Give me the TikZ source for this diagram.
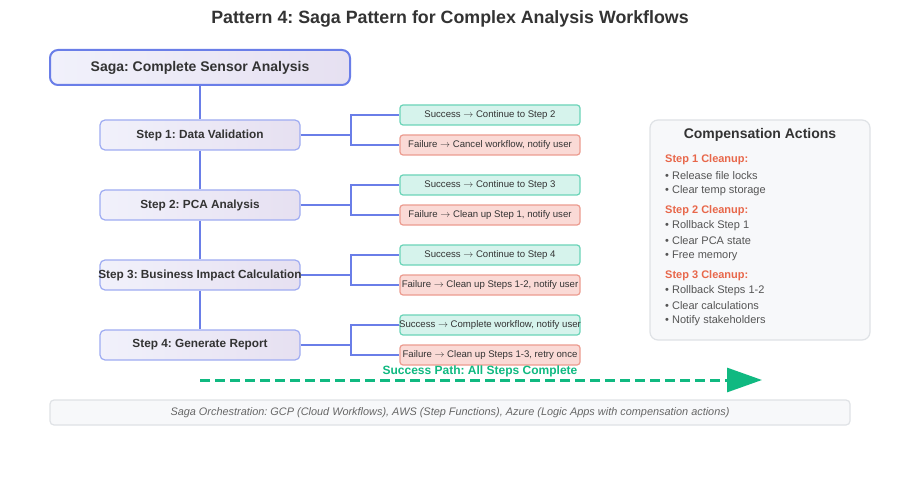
\documentclass[tikz,border=0pt]{standalone}
\usepackage{fontspec}
\setmainfont{Liberation Sans}
\newcommand\rarr{\ensuremath{\rightarrow}}
\frenchspacing
\usetikzlibrary{arrows.meta,calc}
\definecolor{txt}{HTML}{333333}
\definecolor{lineblue}{HTML}{6A7EE8}
\definecolor{stepborder}{HTML}{9FACF2}
\definecolor{lavL}{HTML}{F1F1FB}
\definecolor{lavR}{HTML}{E6E0F1}
\definecolor{okf}{HTML}{D6F3EC}
\definecolor{okb}{HTML}{6BD4B8}
\definecolor{failf}{HTML}{FADAD6}
\definecolor{failb}{HTML}{EC9C90}
\definecolor{hdr}{HTML}{E8674A}
\definecolor{bul}{HTML}{555555}
\definecolor{teal}{HTML}{10B981}
\definecolor{panel}{HTML}{F7F8FA}
\definecolor{panelb}{HTML}{DFE2E6}
\definecolor{foot}{HTML}{666666}
\begin{document}
\begin{tikzpicture}[x=1pt,y=-1pt,
  saga/.style={draw=lineblue,line width=2pt,rounded corners=8pt,left color=lavL,right color=lavR,
    minimum width=300pt,minimum height=35pt,inner sep=0pt,font=\fontsize{14}{16}\selectfont\bfseries,text=txt},
  stepbox/.style={draw=stepborder,line width=1.2pt,rounded corners=5pt,left color=lavL,right color=lavR,
    minimum width=200pt,minimum height=30pt,inner sep=0pt,font=\fontsize{11.8}{14}\selectfont\bfseries,text=txt},
  okbox/.style={draw=okb,fill=okf,line width=1.2pt,rounded corners=3pt,minimum width=180pt,minimum height=20pt,
    inner sep=0pt,font=\fontsize{9.6}{11}\selectfont,text=txt},
  failbox/.style={okbox,draw=failb,fill=failf},
  conn/.style={draw=lineblue,line width=2pt},
  hd/.style={anchor=west,inner sep=0pt,text=hdr,font=\fontsize{11}{13}\selectfont\bfseries},
  it/.style={anchor=west,inner sep=0pt,text=bul,font=\fontsize{11}{13}\selectfont},
  succpath/.style={draw=teal,line width=3pt,dash pattern=on 10pt off 5pt,-{Triangle[length=35pt,width=24pt]}}
]
\useasboundingbox (0,0) rectangle (900,500);
\fill[white] (0,0) rectangle (900,500);

\node[text=txt,font=\fontsize{17.8}{20}\selectfont\bfseries] (title) at (450,19) {Pattern 4: Saga Pattern for Complex Analysis Workflows};

\node[saga] (saga) at (200,67.5) {Saga: Complete Sensor Analysis};

\node[stepbox] (s1) at (200,135) {\makebox[0pt]{Step 1: Data Validation}};
\node[stepbox] (s2) at (200,205) {\makebox[0pt]{Step 2: PCA Analysis}};
\node[stepbox] (s3) at (200,275) {\makebox[0pt]{Step 3: Business Impact Calculation}};
\node[stepbox] (s4) at (200,345) {\makebox[0pt]{Step 4: Generate Report}};

\node[okbox] (ok1) at (490,115) {\makebox[0pt]{Success \rarr{} Continue to Step 2}};
\node[failbox] (f1) at (490,145) {\makebox[0pt]{Failure \rarr{} Cancel workflow, notify user}};
\node[okbox] (ok2) at (490,185) {\makebox[0pt]{Success \rarr{} Continue to Step 3}};
\node[failbox] (f2) at (490,215) {\makebox[0pt]{Failure \rarr{} Clean up Step 1, notify user}};
\node[okbox] (ok3) at (490,255) {\makebox[0pt]{Success \rarr{} Continue to Step 4}};
\node[failbox] (f3) at (490,285) {\makebox[0pt]{Failure \rarr{} Clean up Steps 1-2, notify user}};
\node[okbox] (ok4) at (490,325) {\makebox[0pt]{Success \rarr{} Complete workflow, notify user}};
\node[failbox] (f4) at (490,355) {\makebox[0pt]{Failure \rarr{} Clean up Steps 1-3, retry once}};

\draw[conn] (saga.south) -- (s1.north);
\draw[conn] (s1.south) -- (s2.north);
\draw[conn] (s2.south) -- (s3.north);
\draw[conn] (s3.south) -- (s4.north);

\foreach \s/\o/\f in {s1/ok1/f1,s2/ok2/f2,s3/ok3/f3,s4/ok4/f4}{
  \draw[conn] (\s.east) -- ++(50,0) |- (\o.west);
  \draw[conn] (\s.east) ++(50,0) |- (\f.west);
}

% Compensation panel
\node[draw=panelb,fill=panel,line width=1.2pt,rounded corners=8pt,minimum width=220pt,minimum height=220pt,inner sep=0pt] (comp) at (760,230) {};
\node[text=txt,font=\fontsize{14}{16}\selectfont\bfseries] (ctitle) at (760,135) {Compensation Actions};
\node[hd] (h1) at (665,160) {Step 1 Cleanup:};
\node[it] (h1a) at (665,176) {• Release file locks};
\node[it] (h1b) at (665,191) {• Clear temp storage};
\node[hd] (h2) at (665,211) {Step 2 Cleanup:};
\node[it] (h2a) at (665,226) {• Rollback Step 1};
\node[it] (h2b) at (665,241) {• Clear PCA state};
\node[it] (h2c) at (665,256) {• Free memory};
\node[hd] (h3) at (665,276) {Step 3 Cleanup:};
\node[it] (h3a) at (665,291) {• Rollback Steps 1-2};
\node[it] (h3b) at (665,306) {• Clear calculations};
\node[it] (h3c) at (665,321) {• Notify stakeholders};

% Success path
\coordinate (sp0) at (200,380);
\coordinate (sp1) at (762,380);
\draw[succpath] (sp0) -- (sp1);
\node[text=teal,font=\fontsize{12}{14}\selectfont\bfseries] (splabel) at (480,371) {Success Path: All Steps Complete};

% Footer
\node[draw=panelb,fill=panel,line width=1.2pt,rounded corners=4pt,minimum width=800pt,minimum height=25pt,inner sep=0pt,
  text=foot,font=\fontsize{10.9}{12}\selectfont\itshape] (footer) at (450,412.5)
  {Saga Orchestration: GCP (Cloud Workflows), AWS (Step Functions), Azure (Logic Apps with compensation actions)};
\end{tikzpicture}
\end{document}
